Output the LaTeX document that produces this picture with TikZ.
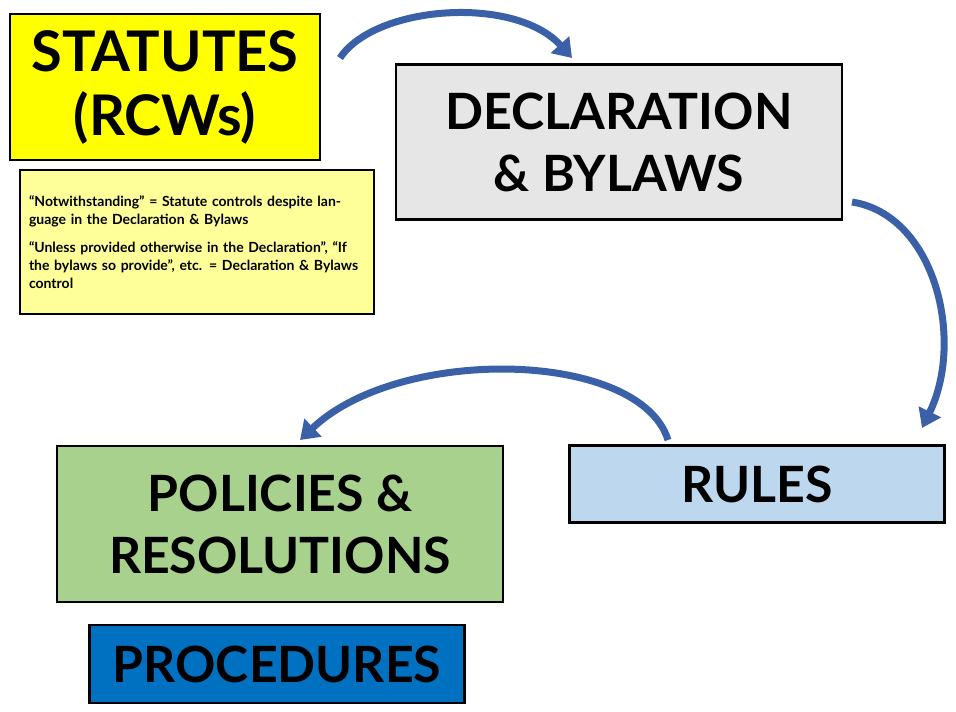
\documentclass[tikz,border=0pt]{standalone}
\usepackage{fontspec}
\setmainfont{Lato}
\usetikzlibrary{arrows.meta}
\definecolor{statyel}{HTML}{FFFF00}
\definecolor{noteyel}{HTML}{FFFF99}
\definecolor{declgray}{HTML}{E7E6E6}
\definecolor{rulesblue}{HTML}{BDD7EE}
\definecolor{polgreen}{HTML}{A9D18E}
\definecolor{procblue}{HTML}{0070C0}
\definecolor{arrblue}{HTML}{4472C4}
\tikzset{
  box/.style={draw=black,line width=2.5pt,inner sep=0pt,align=center,font=\bfseries},
  bigtext/.style={font=\fontsize{50}{62}\selectfont\bfseries},
  curvearrow/.style={draw=arrblue!85!black,line width=7pt,-{Triangle[width=24pt,length=18pt]}}
}
\begin{document}
\begin{tikzpicture}[x=1pt,y=-1pt]
\useasboundingbox (0,0) rectangle (956,712);
% boxes
\node[box,fill=statyel,minimum width=310pt,minimum height=146pt,font=\fontsize{56}{64}\selectfont\bfseries] (statutes) at (165,87) {STATUTES\\(RCWs)};
\node[box,fill=declgray,minimum width=446pt,minimum height=155pt,bigtext] (decl) at (619,142) {DECLARATION\\\& BYLAWS};
\node[box,fill=noteyel,line width=2pt,minimum width=354pt,minimum height=144pt,align=left,text width=336pt,font=\fontsize{14}{18}\selectfont\bfseries] (note) at (197,242)
  {“Notwithstanding” = Statute controls despite language in the Declaration \& Bylaws\\[10pt]
   “Unless provided otherwise in the Declaration”, “If the bylaws so provide”, etc. = Declaration \& Bylaws control};
\node[box,fill=rulesblue,minimum width=375pt,minimum height=77pt,bigtext] (rules) at (757,484) {RULES};
\node[box,fill=polgreen,minimum width=446pt,minimum height=156pt,bigtext] (policies) at (280,524) {POLICIES \&\\RESOLUTIONS};
\node[box,fill=procblue,minimum width=375pt,minimum height=78pt,bigtext] (proc) at (277,664) {PROCEDURES};
% arrow ends
\coordinate (a1s) at (340,58);
\coordinate (a1e) at (572,58);
\coordinate (a2s) at (852,202);
\coordinate (a2e) at (922,428);
\coordinate (a3s) at (668,440);
\coordinate (a3e) at (300,440);
% curved arrows
\draw[curvearrow] (a1s) .. controls (375,5) and (515,-5) .. (a1e);
\draw[curvearrow] (a2s) .. controls (935,215) and (965,340) .. (a2e);
\draw[curvearrow] (a3s) .. controls (640,350) and (400,345) .. (a3e);
\end{tikzpicture}
\end{document}
